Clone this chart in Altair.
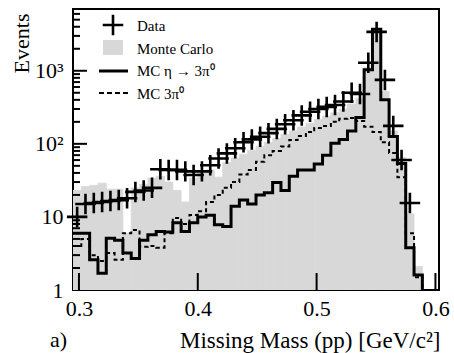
import altair as alt
import numpy as np
import pandas as pd

# ---- histogram binning (GeV) ----
x_start = 0.295
bin_width = 0.007
n_bins = 44

# ---- per-bin contents ----
data_counts = [10, 15, 15.5, 16, 16.5, 17, 18, 22, 23, 25,
               45, 44, 44, 42, 37.5, 42, 51, 63, 74, 87,
               105, 115, 125, 140, 160, 185, 210, 245, 275, 300,
               320, 340, 380, 500, 480, 1290, 3400, 750, 176, 60,
               15.5, 0, 0, 0]
mc_total = [23, 26, 27, 29, 24, 24, 6, 25, 28, 34,
            36, 30, 23, 16, 34, 40, 44, 35, 55, 64,
            72, 82, 92, 105, 118, 135, 150, 170, 190, 215,
            240, 265, 300, 350, 420, 1100, 3300, 520, 150, 65,
            11, 2.1, 0, 0]
mc_eta = [6, 6, 2.6, 1.7, 5.1, 4.8, 3.2, 2.7, 4.8, 5.7,
          6.3, 6.2, 8.3, 6.3, 8.3, 10, 10.5, 7.8, 7.4, 14,
          17, 15, 20, 21.5, 29.5, 23, 36, 44, 44, 53,
          70, 102, 115, 150, 230, 1030, 3700, 400, 126, 54,
          3.8, 1.6, 0, 0]
mc_3pi = [4, 5, 3, 2.5, 3.2, 2.6, 6, 6.6, 3.9, 4,
          3.8, 6, 9.7, 8, 10.6, 12, 16, 20, 25, 30,
          38, 44, 57, 70, 80, 92, 113, 128, 145, 165,
          175, 200, 220, 225, 205, 172, 145, 105, 75, 35,
          6, 1.5, 0, 0]

x_ticks = [0.3, 0.4, 0.5, 0.6]
y_ticks = [1, 10, 100, 1000]
legend_labels = ["Data", "Monte Carlo", "MC \u03b7 \u2192 3\u03c0\u2070", "MC 3\u03c0\u2070"]
x_title = "Missing Mass (pp) [GeV/c\u00b2]"
y_title = "Events"
panel_label = "a)"

FONT = "Liberation Serif"
GRAY = "#d8d8d8"

edges = x_start + bin_width * np.arange(n_bins + 1)
bins = pd.DataFrame({
    "lo": edges[:-1], "hi": edges[1:],
    "mid": (edges[:-1] + edges[1:]) / 2,
    "data": data_counts, "mc": mc_total,
})

# step outlines for the two MC components
rows = []
for name, vals in [("eta", mc_eta), ("bg", mc_3pi)]:
    for k, v in enumerate(vals):
        vv = max(v, 0.3)
        rows.append({"series": name, "x": edges[k], "y": vv, "i": 2 * k})
        rows.append({"series": name, "x": edges[k + 1], "y": vv, "i": 2 * k + 1})
steps = pd.DataFrame(rows)

xs = alt.Scale(domain=[0.295, 0.603], nice=False, zero=False)
ys = alt.Scale(type="log", domain=[1, 7000], nice=False)

x_axis = alt.Axis(values=x_ticks, format=".1f", ticks=False, tickSize=0, domain=False, grid=False,
                  labelFont=FONT, labelFontSize=22, labelColor="black", labelPadding=8,
                  labelFlush=False, labelOverlap=False,
                  title=x_title, titleFont=FONT, titleFontSize=23, titleFontWeight="normal",
                  titleColor="black", titleX=367, titleY=57, titleAlign="right",
                  titleBaseline="alphabetic")
y_axis = alt.Axis(values=y_ticks, ticks=False, tickSize=0, domain=False, grid=False,
                  labelExpr="datum.value == 1 ? '1' : datum.value == 10 ? '10' : datum.value == 100 ? '10\u00b2' : '10\u00b3'",
                  labelFont=FONT, labelFontSize=22, labelColor="black", labelPadding=10,
                  labelFlush=False, labelOverlap=False,
                  title=y_title, titleFont=FONT, titleFontSize=22, titleFontWeight="normal",
                  titleColor="black", titleX=-45, titleY=4, titleAngle=270, titleAlign="right",
                  titleBaseline="alphabetic")


def X(field):
    return alt.X(field, type="quantitative", scale=xs, axis=x_axis, title=x_title)


def Y(field):
    return alt.Y(field, type="quantitative", scale=ys, axis=y_axis, title=y_title)


gray = alt.Chart(bins[bins["mc"] > 0]).mark_rect(
    color=GRAY, stroke=GRAY, strokeWidth=0.8, clip=True).encode(
    x=X("lo"), x2="hi", y=Y("mc"), y2=alt.datum(1),
)

dashed = alt.Chart(steps[steps["series"] == "bg"]).mark_line(
    color="black", strokeWidth=2, strokeDash=[4, 3], clip=True).encode(
    x=X("x"), y=Y("y"), order="i:Q",
)
solid = alt.Chart(steps[steps["series"] == "eta"]).mark_line(
    color="black", strokeWidth=3, clip=True).encode(
    x=X("x"), y=Y("y"), order="i:Q",
)

CROSS = "M-1,0L1,0M0,-1L0,1"
points = alt.Chart(bins[bins["data"] > 0]).mark_point(
    shape=CROSS, size=420, filled=False, stroke="black", strokeWidth=2.6, opacity=1).encode(
    x=X("mid"), y=Y("data"),
)

# inward tick marks (ROOT style)
major_y = pd.DataFrame({"v": [10, 100, 1000]})
minor_vals = [m * d for d in [1, 10, 100] for m in range(2, 10)] + [m * 1000 for m in range(2, 8)]
minor_y = pd.DataFrame({"v": minor_vals})
xt = pd.DataFrame({"v": x_ticks})

ymaj = alt.Chart(major_y).mark_rule(color="black", strokeWidth=2).encode(
    y=Y("v"), x=alt.value(0), x2=alt.value(14))
ymin = alt.Chart(minor_y).mark_rule(color="black", strokeWidth=2).encode(
    y=Y("v"), x=alt.value(0), x2=alt.value(7))
xmaj = alt.Chart(xt).mark_rule(color="black", strokeWidth=2).encode(
    x=X("v"), y=alt.value(281), y2=alt.value(264))

one = pd.DataFrame({"a": [0]})
leg_cross = alt.Chart(one).mark_point(shape=CROSS, size=420, filled=False, stroke="black",
                                      strokeWidth=2.6, opacity=1).encode(
    x=alt.value(40), y=alt.value(16))
leg_box = alt.Chart(one).mark_rect(color=GRAY).encode(
    x=alt.value(30), x2=alt.value(50), y=alt.value(31), y2=alt.value(46))
leg_solid = alt.Chart(one).mark_rule(color="black", strokeWidth=3).encode(
    x=alt.value(26), x2=alt.value(55), y=alt.value(62))
leg_dash = alt.Chart(one).mark_rule(color="black", strokeWidth=2, strokeDash=[5, 3]).encode(
    x=alt.value(26), x2=alt.value(55), y=alt.value(84))

leg_texts = []
for lab, yb in zip(legend_labels, [21.5, 45, 67, 90]):
    leg_texts.append(alt.Chart(one).mark_text(
        font=FONT, fontSize=15, align="left", baseline="alphabetic", color="black").encode(
        x=alt.value(64), y=alt.value(yb), text=alt.value(lab)))

panel = alt.Chart(one).mark_text(font=FONT, fontSize=22, align="left", baseline="alphabetic",
                                 color="black").encode(
    x=alt.value(-23), y=alt.value(338), text=alt.value(panel_label))

chart = alt.layer(gray, dashed, solid, points, ymaj, ymin, xmaj,
                  leg_cross, leg_box, leg_solid, leg_dash, *leg_texts, panel).properties(
    width=366, height=281,
    padding={"left": 73, "top": 9, "right": 15, "bottom": 63},
    autosize=alt.AutoSizeParams(type="none"),
    background="white",
).configure_view(stroke="black", strokeWidth=2)

chart.save("out.html", embed_options={"renderer": "svg", "actions": False})
